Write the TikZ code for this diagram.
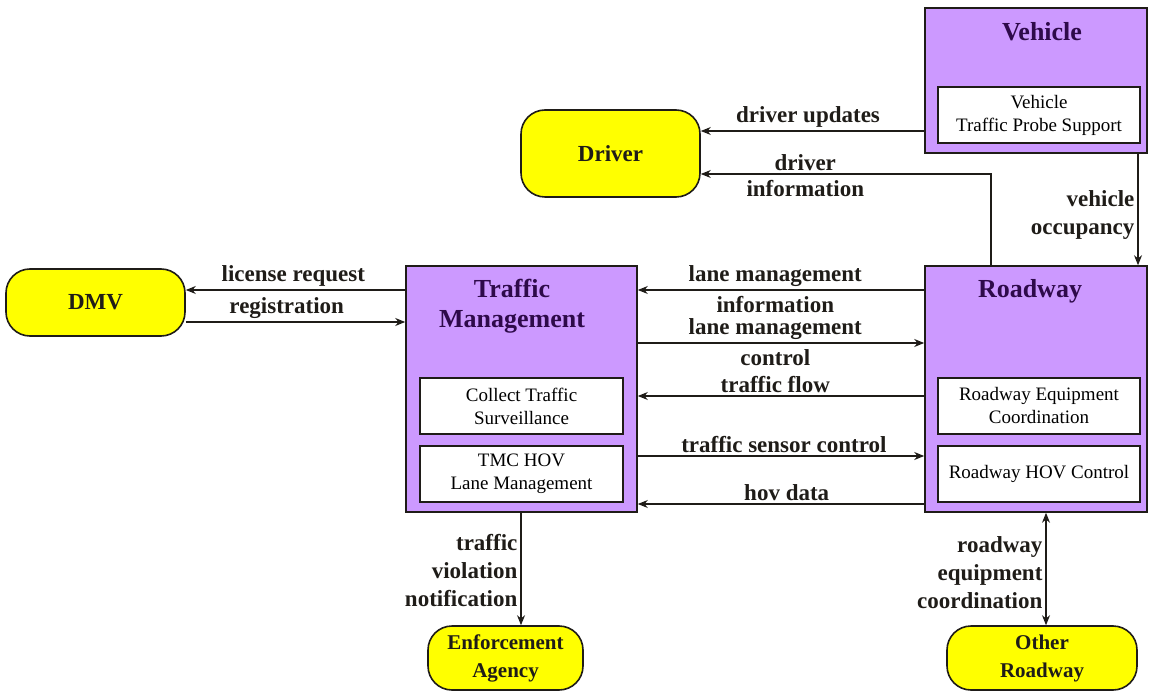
\documentclass[tikz,border=0pt]{standalone}
\usepackage{fontspec}
\setmainfont{Liberation Serif}
\usetikzlibrary{arrows.meta}
\definecolor{sysfill}{HTML}{CC99FF}
\definecolor{termfill}{HTML}{FFFF00}
\definecolor{headink}{HTML}{2E0A4A}
\definecolor{lineink}{HTML}{1F1C18}

\begin{document}
\begin{tikzpicture}[x=0.5pt, y=-0.5pt, >={Stealth[length=5pt,width=4pt]},
    sysbox/.style={draw=lineink, line width=0.8pt, fill=sysfill, inner sep=0pt},
    subbox/.style={draw=lineink, line width=0.7pt, fill=white, inner sep=0pt,
                   minimum width=101pt, minimum height=28pt, align=center,
                   font=\fontsize{9.5}{11.5}\selectfont},
    termbox/.style={draw=lineink, line width=0.8pt, fill=termfill, rounded corners=12pt,
                    align=center, text=lineink, font=\fontsize{11.5}{14}\selectfont\bfseries},
    narrowterm/.style={termbox, font=\fontsize{10.5}{14}\selectfont\bfseries},
    head/.style={align=center, text=headink, font=\fontsize{13}{15}\selectfont\bfseries},
    flow/.style={line width=0.6pt, lineink},
    lbl/.style={align=center, inner sep=1.5pt, text=lineink,
                font=\fontsize{11.5}{14}\selectfont\bfseries},
    lblbelow/.style={lbl, below, yshift=-1.5pt}]

\useasboundingbox (0,0) rectangle (1149,694);

%% ==== 子系統方塊 ==========================================================
\begin{scope}

  %% Vehicle
  \node[sysbox, minimum width=111pt, minimum height=72.5pt] (vehicle) at (1036,80.5) {};
  \node[head] (vehiclehead) at (1042,32) {Vehicle};
  \node[subbox] (probe) at (1039,115) {Vehicle\\Traffic Probe Support};

  %% Traffic Management
  \node[sysbox, minimum width=115.5pt, minimum height=123pt] (tm) at (521.5,389) {};
  \node[head] (tmhead) at (512,306) {Traffic\\Management};
  \node[subbox, minimum width=101.5pt] (surv) at (521.5,406) {Collect Traffic\\Surveillance};
  \node[subbox, minimum width=101.5pt] (hovlane) at (521.5,474) {TMC HOV\\Lane Management};

  %% Roadway
  \node[sysbox, minimum width=111pt, minimum height=123pt] (roadway) at (1036,389) {};
  \node[head] (roadwayhead) at (1030,291) {Roadway};
  \node[subbox] (equip) at (1039,406) {Roadway Equipment\\Coordination};
  \node[subbox] (hovctrl) at (1039,474) {Roadway HOV Control};

\end{scope}

%% ==== 外部端點 ============================================================
\node[termbox, minimum width=89.5pt, minimum height=43.5pt] (driver) at (610.5,153.5) {Driver};
\node[termbox, minimum width=89.5pt, minimum height=33.5pt] (dmv) at (95.5,302.5) {DMV};
\node[narrowterm, minimum width=77.5pt, minimum height=32pt] (enforce) at (505.5,658) {Enforcement\\Agency};
\node[narrowterm, minimum width=95pt, minimum height=32pt] (other) at (1042,658) {Other\\Roadway};

%% ==== 資料流 ==============================================================
%% Vehicle / Roadway -> Driver
\draw[flow, ->] (vehicle.west |- 0,131) -- (driver.east |- 0,131)
  node[lbl, above, pos=0.52] (lbupd) {driver updates};
\draw[flow, ->] (roadway.north -| 991,0) |- (driver.east |- 0,174)
  node[lbl, above, pos=0.82] (lbinfoa) {driver}
  node[lblbelow, pos=0.82] (lbinfob) {information};
\draw[flow, ->] (vehicle.south -| 1138,0) -- (roadway.north -| 1138,0)
  node[lbl, left, midway, align=right, yshift=-3pt] (lbocc) {vehicle\\occupancy};

%% Traffic Management <-> DMV
\draw[flow, ->] (tm.west |- 0,290) -- (dmv.east |- 0,290)
  node[lbl, above, pos=0.51] (lblic) {license request};
\draw[flow, ->] (dmv.east |- 0,322) -- (tm.west |- 0,322)
  node[lbl, above, pos=0.46] (lbreg) {registration};

%% Traffic Management <-> Roadway
\draw[flow, ->] (roadway.west |- 0,290) -- (tm.east |- 0,290)
  node[lbl, above, pos=0.52] (lblmia) {lane management}
  node[lblbelow, pos=0.52] (lblmib) {information};
\draw[flow, ->] (tm.east |- 0,343) -- (roadway.west |- 0,343)
  node[lbl, above, pos=0.48] (lblmca) {lane management}
  node[lblbelow, pos=0.48] (lblmcb) {control};
\draw[flow, ->] (roadway.west |- 0,396) -- (tm.east |- 0,396)
  node[lbl, above, pos=0.52] (lbflow) {traffic flow};
\draw[flow, ->] (tm.east |- 0,456) -- (roadway.west |- 0,456)
  node[lbl, above, pos=0.51] (lbsens) {traffic sensor control};
\draw[flow, ->] (roadway.west |- 0,504) -- (tm.east |- 0,504)
  node[lbl, above, pos=0.48] (lbhov) {hov data};

%% 往下的兩條
\draw[flow, ->] (tm.south -| 521,0) -- (enforce.north -| 521,0)
  node[lbl, left, midway, align=right, yshift=-1pt] (lbviol) {traffic\\violation\\notification};
\draw[flow, <->] (roadway.south -| 1046,0) -- (other.north -| 1046,0)
  node[lbl, left, midway, align=right, yshift=-2pt] (lbcoord) {roadway\\equipment\\coordination};

\end{tikzpicture}
\end{document}
